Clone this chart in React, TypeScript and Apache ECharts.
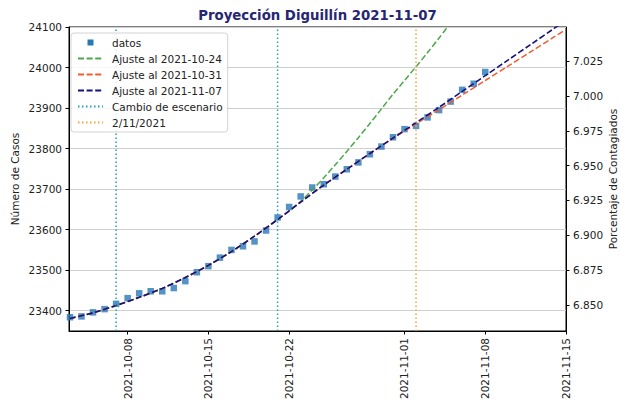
import React, { useEffect, useRef } from 'react';
import * as echarts from 'echarts';

// ---- data ----
const dataDates = [
  '2021-10-03', '2021-10-04', '2021-10-05', '2021-10-06', '2021-10-07', '2021-10-08', '2021-10-09',
  '2021-10-10', '2021-10-11', '2021-10-12', '2021-10-13', '2021-10-14', '2021-10-15', '2021-10-16',
  '2021-10-17', '2021-10-18', '2021-10-19', '2021-10-20', '2021-10-21', '2021-10-22', '2021-10-23',
  '2021-10-24', '2021-10-25', '2021-10-26', '2021-10-27', '2021-10-28', '2021-10-29', '2021-10-30',
  '2021-10-31', '2021-11-01', '2021-11-02', '2021-11-03', '2021-11-04', '2021-11-05', '2021-11-06',
  '2021-11-07', '2021-11-08',
];
const dataCases = [
  23384, 23386, 23396, 23404, 23417, 23431, 23443,
  23448, 23448, 23456, 23473, 23495, 23510, 23531,
  23550, 23559, 23571, 23598, 23630, 23656, 23682,
  23704, 23712, 23731, 23749, 23766, 23786, 23805,
  23828, 23848, 23856, 23877, 23895, 23916, 23945,
  23960, 23989,
];

const fit1107Dates = [
  '2021-10-03', '2021-10-05', '2021-10-07', '2021-10-09', '2021-10-11', '2021-10-13', '2021-10-15',
  '2021-10-17', '2021-10-19', '2021-10-21', '2021-10-23', '2021-10-25', '2021-10-27', '2021-10-29',
  '2021-10-31', '2021-11-02', '2021-11-04', '2021-11-06', '2021-11-08', '2021-11-10', '2021-11-12',
  '2021-11-14', '2021-11-15',
];
const fit1107Cases = [
  23381, 23395, 23413, 23433, 23455, 23482, 23512,
  23546, 23584, 23625, 23668, 23710, 23749, 23788,
  23826, 23864, 23902, 23941, 23980, 24019, 24058,
  24097, 24117,
];

const fit1031Dates = [
  '2021-10-03', '2021-10-05', '2021-10-07', '2021-10-09', '2021-10-11', '2021-10-13', '2021-10-15',
  '2021-10-17', '2021-10-19', '2021-10-21', '2021-10-23', '2021-10-25', '2021-10-27', '2021-10-29',
  '2021-10-31', '2021-11-02', '2021-11-04', '2021-11-06', '2021-11-08', '2021-11-10', '2021-11-12',
  '2021-11-14', '2021-11-15',
];
const fit1031Cases = [
  23381, 23395, 23413, 23433, 23455, 23482, 23512,
  23546, 23584, 23625, 23668, 23710, 23749, 23788,
  23825, 23861, 23896, 23932, 23968, 24004, 24040,
  24076, 24094,
];

const fit1024Dates = [
  '2021-10-03', '2021-10-05', '2021-10-07', '2021-10-09', '2021-10-11', '2021-10-13', '2021-10-15',
  '2021-10-17', '2021-10-19', '2021-10-21', '2021-10-22', '2021-10-23', '2021-10-24', '2021-10-25',
  '2021-10-26', '2021-10-27', '2021-10-28', '2021-10-29', '2021-10-30', '2021-10-31', '2021-11-01',
  '2021-11-02', '2021-11-03', '2021-11-04', '2021-11-05',
];
const fit1024Cases = [
  23381, 23395, 23413, 23433, 23455, 23482, 23512,
  23546, 23584, 23625, 23646, 23670, 23698, 23728,
  23760, 23793, 23827, 23862, 23898, 23934, 23968,
  24002, 24037, 24073, 24110,
];

const scenarioChangeDates = ['2021-10-07', '2021-10-21'];
const markerDates = ['2021-11-02'];

const xTickDates = ['2021-10-08', '2021-10-15', '2021-10-22', '2021-11-01', '2021-11-08', '2021-11-15'];
const casesTicks = [23400, 23500, 23600, 23700, 23800, 23900, 24000, 24100];
const pctTicks = [6.85, 6.875, 6.9, 6.925, 6.95, 6.975, 7.0, 7.025];

const xMin = '2021-10-02T22:00';
const xMax = '2021-11-15T00:00';
const casesMin = 23350;
const casesMax = 24100;
const pctMin = 6.8314;
const pctMax = 7.0494;

const titleText = 'Proyección Diguillín 2021-11-07';
const seriesNames = [
  'datos',
  'Ajuste al 2021-10-24',
  'Ajuste al 2021-10-31',
  'Ajuste al 2021-11-07',
  'Cambio de escenario',
  '2/11/2021',
];

// ---- helpers ----
function ts(s: string): number {
  const [d, t] = s.split('T');
  const [y, m, day] = d.split('-').map(Number);
  let hh = 0, mm = 0;
  if (t) [hh, mm] = t.split(':').map(Number);
  return new Date(y, m - 1, day, hh, mm).getTime();
}
function pad(n: number) { return n < 10 ? '0' + n : '' + n; }
function fmtDate(v: number) {
  const d = new Date(v);
  return d.getFullYear() + '-' + pad(d.getMonth() + 1) + '-' + pad(d.getDate());
}
function pairs(dates: string[], vals: number[]) {
  return dates.map((d, i) => [ts(d), vals[i]]);
}
function vlines(dates: string[]) {
  const out: any[] = [];
  dates.forEach((d, i) => {
    if (i > 0) out.push([ts(d), '-']);
    out.push([ts(d), casesMin]);
    out.push([ts(d), casesMax]);
  });
  return out;
}

const FONT = 'DejaVu Sans';
const FS = 10.5;

export default function App() {
  const ref = useRef<HTMLDivElement>(null);
  useEffect(() => {
    if (!ref.current) return;
    const chart = echarts.init(ref.current, null, { renderer: 'svg' });
    const gridL = 69, gridR = 55, gridT = 27, gridB = 75;
    const dashed = [6, 2.6];
    const dotted = [1.5, 2.5];
    const option: any = {
      animation: false,
      backgroundColor: '#fff',
      textStyle: { fontFamily: FONT },
      graphic: [
        {
          type: 'text',
          x: gridL + (621 - gridL - gridR) / 2,
          y: 15,
          style: {
            text: titleText,
            textAlign: 'center',
            textVerticalAlign: 'middle',
            font: 'bold 13.3px "DejaVu Sans"',
            fill: '#262673',
          },
        },
      ],
      grid: {
        left: gridL, right: gridR, top: gridT, bottom: gridB,
        containLabel: false,
        outerBoundsMode: 'none',
        show: true,
        borderColor: '#000',
        borderWidth: 1,
        backgroundColor: 'transparent',
      },
      legend: {
        orient: 'vertical',
        left: 71,
        top: 33,
        padding: [4, 5, 4, 6],
        itemWidth: 25,
        itemHeight: 10,
        itemGap: 5,
        backgroundColor: 'rgba(255,255,255,0.85)',
        borderColor: '#d4d4d4',
        borderWidth: 1,
        borderRadius: 3,
        itemStyle: { opacity: 0 },
        textStyle: { fontSize: FS, color: '#222', fontFamily: FONT, padding: [0, 0, 0, 4] },
        data: [
          {
            name: seriesNames[0],
            icon: 'path://M0,0h0.01v0.01h-0.01zM9.5,2h6v6h-6zM25,10h0.01v0.01h-0.01z',
            itemStyle: { opacity: 1 },
          },
          seriesNames[1], seriesNames[2], seriesNames[3], seriesNames[4], seriesNames[5],
        ],
        z: 20,
      },
      xAxis: {
        type: 'value',
        min: ts(xMin),
        max: ts(xMax),
        axisLine: { lineStyle: { color: '#000', width: 1 } },
        axisTick: { show: true, inside: false, length: 3.5, lineStyle: { color: '#000' }, customValues: xTickDates.map(ts) },
        axisLabel: {
          customValues: xTickDates.map(ts),
          rotate: 90,
          fontSize: FS,
          color: '#222',
          fontFamily: FONT,
          margin: 7,
          formatter: (v: number) => fmtDate(v),
        },
        splitLine: { show: false },
      },
      yAxis: [
        {
          type: 'value',
          min: casesMin,
          max: casesMax,
          name: 'Número de Casos',
          nameLocation: 'middle',
          nameGap: 49,
          nameRotate: 90,
          nameMoveOverlap: false,
          nameTextStyle: { fontSize: FS, color: '#222', fontFamily: FONT },
          axisLine: { show: true, lineStyle: { color: '#000', width: 1 } },
          axisTick: { show: true, inside: false, length: 3.5, lineStyle: { color: '#000' }, customValues: casesTicks },
          axisLabel: {
            customValues: casesTicks, fontSize: FS, color: '#222', fontFamily: FONT, margin: 7,
            formatter: (v: number) => String(Math.round(v)),
          },
          splitLine: { show: true, lineStyle: { color: '#cfcfcf', width: 1 } },
        },
        {
          type: 'value',
          position: 'right',
          min: pctMin,
          max: pctMax,
          name: 'Porcentaje de Contagiados',
          nameLocation: 'middle',
          nameGap: 41,
          nameRotate: 90,
          nameMoveOverlap: false,
          nameTextStyle: { fontSize: FS, color: '#222', fontFamily: FONT },
          axisLine: { show: true, lineStyle: { color: '#000', width: 1 } },
          axisTick: { show: true, inside: false, length: 3.5, lineStyle: { color: '#000' }, customValues: pctTicks },
          axisLabel: {
            customValues: pctTicks, fontSize: FS, color: '#222', fontFamily: FONT, margin: 7,
            formatter: (v: number) => v.toFixed(3),
          },
          splitLine: { show: false },
        },
      ],
      series: [
        {
          name: seriesNames[0],
          type: 'scatter',
          symbol: 'rect',
          symbolSize: 6.5,
          itemStyle: { color: '#2878b8' },
          data: pairs(dataDates, dataCases),
          z: 2,
        },
        {
          name: seriesNames[1],
          type: 'line',
          symbol: 'none',
          smooth: 0.3,
          lineStyle: { color: '#4aa84a', width: 1.5, type: dashed },
          itemStyle: { color: '#4aa84a' },
          data: pairs(fit1024Dates, fit1024Cases),
          z: 3,
        },
        {
          name: seriesNames[2],
          type: 'line',
          symbol: 'none',
          smooth: 0.3,
          lineStyle: { color: '#f25c2e', width: 1.5, type: dashed },
          itemStyle: { color: '#f25c2e' },
          data: pairs(fit1031Dates, fit1031Cases),
          z: 4,
        },
        {
          name: seriesNames[3],
          type: 'line',
          symbol: 'none',
          smooth: 0.3,
          lineStyle: { color: '#121282', width: 1.6, type: dashed },
          itemStyle: { color: '#121282' },
          data: pairs(fit1107Dates, fit1107Cases),
          z: 5,
        },
        {
          name: seriesNames[4],
          type: 'line',
          symbol: 'none',
          connectNulls: false,
          lineStyle: { color: '#23a0ae', width: 1.5, type: dotted },
          itemStyle: { color: '#23a0ae' },
          data: vlines(scenarioChangeDates),
          z: 6,
        },
        {
          name: seriesNames[5],
          type: 'line',
          symbol: 'none',
          lineStyle: { color: '#f6a53a', width: 1.5, type: dotted },
          itemStyle: { color: '#f6a53a' },
          data: vlines(markerDates),
          z: 6,
        },
      ],
    };
    chart.setOption(option);
    return () => chart.dispose();
  }, []);
  return (
    <div
      ref={ref}
      style={{ position: 'fixed', left: 0, top: 0, width: 621, height: 406, background: '#fff' }}
    />
  );
}
